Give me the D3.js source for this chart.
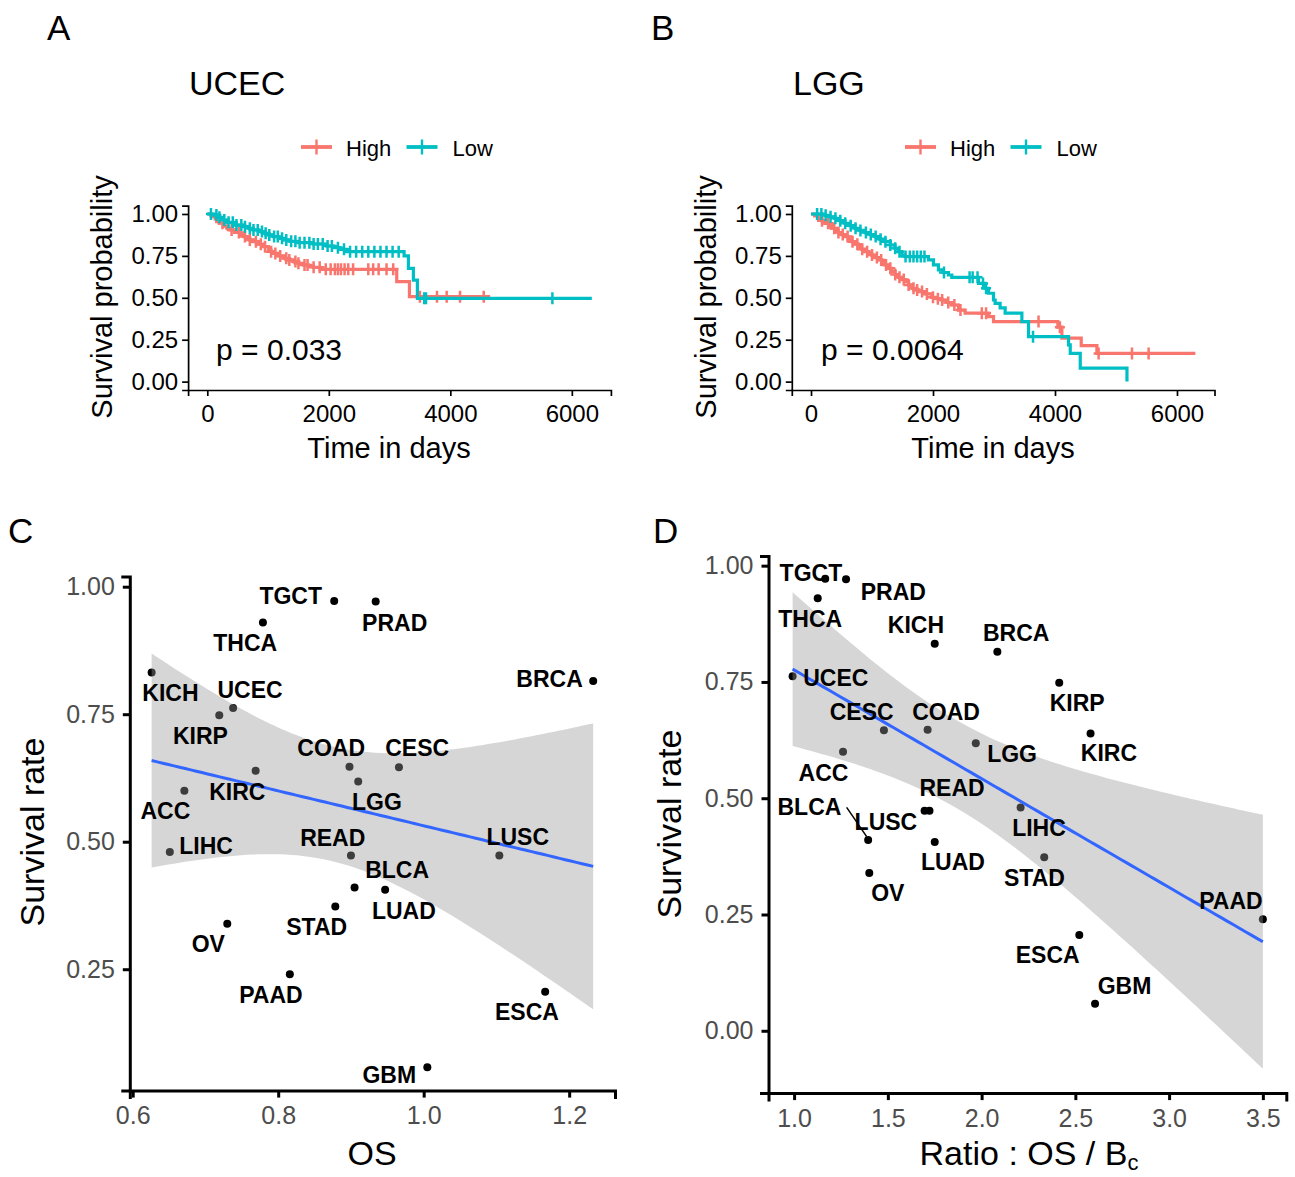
<!DOCTYPE html>
<html>
<head>
<meta charset="utf-8">
<script src="https://cdn.jsdelivr.net/npm/d3@7"></script>
<style>
  body { margin: 0; background: #fff; }
  svg { display: block; font-family: "Liberation Sans", Arial, Helvetica, sans-serif; }
</style>
</head>
<body>
<svg id="fig" width="1295" height="1177"></svg>
<script>
// ---------------- Kaplan–Meier curves: [time in days, survival after that time] ----------------
const ucecHighSteps = [[0,1],[60,0.99],[99,0.984],[130,0.97],[154,0.954],[200,0.945],[263,0.928],[320,0.915],[373,0.905],[450,0.89],[538,0.875],[600,0.865],[648,0.855],[700,0.845],[757,0.835],[840,0.82],[922,0.805],[1005,0.785],[1050,0.775],[1087,0.765],[1170,0.75],[1252,0.736],[1330,0.726],[1416,0.716],[1500,0.706],[1581,0.696],[1660,0.689],[1746,0.682],[1855,0.670],[3118,0.596],[3327,0.507]];
const ucecHighEnd = 4655;
const ucecHighCensor = [250,400,520,620,700,800,880,950,1050,1120,1200,1300,1350,1450,1500,1600,1650,1750,1850,1950,2030,2100,2150,2200,2260,2320,2400,2650,2730,2820,2950,3060,3500,3780,3940,4160,4550];

const ucecLowSteps = [[0,1],[99,0.994],[180,0.98],[263,0.964],[340,0.95],[428,0.934],[593,0.924],[680,0.915],[757,0.905],[840,0.895],[922,0.885],[1000,0.875],[1087,0.865],[1170,0.855],[1252,0.845],[1360,0.837],[1471,0.829],[1746,0.821],[1965,0.809],[2080,0.799],[2185,0.789],[2295,0.775],[3239,0.750],[3310,0.676],[3392,0.606],[3458,0.497]];
const ucecLowEnd = 6329;
const ucecLowCensor = [60,150,200,280,350,420,480,560,620,700,760,830,900,960,1020,1100,1160,1230,1300,1380,1450,1520,1600,1680,1750,1820,1900,1980,2050,2150,2250,2350,2450,2550,2650,2750,2850,2950,3050,3150,3570,3600,5680];

const lggHighSteps = [[0,1],[60,0.988],[120,0.974],[180,0.96],[230,0.944],[290,0.93],[339,0.915],[400,0.90],[449,0.889],[500,0.877],[558,0.865],[610,0.85],[667,0.835],[720,0.82],[777,0.805],[830,0.79],[886,0.775],[940,0.765],[995,0.755],[1050,0.74],[1105,0.726],[1160,0.711],[1214,0.696],[1270,0.676],[1324,0.656],[1380,0.639],[1433,0.622],[1490,0.609],[1542,0.596],[1600,0.577],[1652,0.557],[1706,0.547],[1761,0.537],[1871,0.523],[1980,0.503],[2060,0.495],[2144,0.487],[2230,0.472],[2308,0.457],[2418,0.427],[2527,0.408],[2910,0.388],[2992,0.358],[4047,0.325],[4113,0.26],[4430,0.215],[4687,0.168]];
const lggHighEnd = 6301;
const lggHighCensor = [180,280,380,450,520,600,680,760,840,920,1000,1080,1150,1230,1300,1380,1450,1520,1600,1680,1740,1820,1900,2000,2080,2150,2250,2350,2450,2800,2870,3730,4080,4715,5262,5535];

const lggLowSteps = [[0,1],[230,0.992],[310,0.983],[394,0.974],[470,0.96],[558,0.944],[640,0.93],[722,0.915],[800,0.902],[886,0.889],[970,0.877],[1050,0.865],[1130,0.85],[1214,0.835],[1300,0.815],[1378,0.795],[1430,0.775],[1488,0.755],[1542,0.746],[1925,0.726],[2007,0.696],[2089,0.666],[2170,0.651],[2253,0.636],[2308,0.622],[2746,0.586],[2855,0.557],[2910,0.527],[2992,0.487],[3019,0.467],[3100,0.44],[3183,0.408],[3457,0.358],[3566,0.268],[4222,0.219],[4250,0.169],[4414,0.080],[5180,0.0]];
const lggLowEnd = 5180;
const lggLowCensor = [100,170,240,320,400,480,560,650,730,810,900,980,1060,1140,1220,1300,1380,1450,1550,1620,1680,1740,1800,1860,2180,2600,2650,2730,2820,2870,3640];

const kmTimeTicks = [0, 2000, 4000, 6000];
const kmProbTicks = [0, 0.25, 0.5, 0.75, 1];
const groupNames = ["High", "Low"];

// ---------------- Cancer types: survival rate vs OS and vs OS / Bc ----------------
const cancerTypes = ["TGCT","PRAD","THCA","KICH","BRCA","UCEC","KIRP","KIRC","COAD","CESC","LGG","ACC","LIHC","READ","LUSC","BLCA","LUAD","STAD","OV","PAAD","ESCA","GBM"];
const survivalRate = [0.972,0.971,0.930,0.832,0.815,0.762,0.748,0.639,0.647,0.646,0.618,0.600,0.480,0.473,0.473,0.410,0.406,0.373,0.339,0.240,0.206,0.058];
const osValue      = [0.877,0.934,0.779,0.626,1.233,0.738,0.719,0.769,0.898,0.966,0.910,0.671,0.651,0.900,1.104,0.905,0.947,0.8785,0.730,0.816,1.167,1.005];
const ratioValue   = [1.166,1.277,1.126,1.750,2.084,0.992,2.414,2.581,1.712,1.479,1.969,1.261,2.208,1.722,1.696,1.395,1.750,2.334,1.401,3.500,2.521,2.605];

const osTicks = [0.6, 0.8, 1.0, 1.2];
const rateTicksC = [0.25, 0.5, 0.75, 1.0];
const ratioTicks = [1.0, 1.5, 2.0, 2.5, 3.0, 3.5];
const rateTicksD = [0, 0.25, 0.5, 0.75, 1.0];

// label placement (pixel offset of the label centre from its point), repel-style layout
const labelOffsetC = {
  TGCT:[-43.5,-5], PRAD:[19,21], THCA:[-17.7,20.6], KICH:[18.8,20.7], BRCA:[-43.6,-2.3],
  UCEC:[17,-18], KIRP:[-18.8,20.7], KIRC:[-18.3,20.7], COAD:[-18.3,-18.7], CESC:[18.2,-19.4],
  LGG:[18.7,20.7], ACC:[-19,20], LIHC:[36.3,-6.5], READ:[-18.2,-18], LUSC:[18.4,-18.3],
  BLCA:[42.5,-17.7], LUAD:[18.7,20.7], STAD:[-18.6,20], OV:[-19,20.3], PAAD:[-18.9,20.7],
  ESCA:[-18.2,20.6], GBM:[-38.1,7.7]
};
const labelOffsetD = {
  TGCT:[-14.3,-6], PRAD:[47.3,12.7], THCA:[-7.5,20.9], KICH:[-18.8,-19], BRCA:[18.8,-19],
  UCEC:[43.2,1.3], KIRP:[18,19.6], KIRC:[18.4,19.6], COAD:[18.4,-18.3], CESC:[-22.2,-19],
  LGG:[36.3,10.6], ACC:[-19.5,20.7], LIHC:[18.4,20.4], READ:[22.6,-22.7], LUSC:[-38.7,11],
  BLCA:[-58.7,-33.3], LUAD:[18.2,20], STAD:[-9.8,20.4], OV:[18.5,20], PAAD:[-31.9,-18],
  ESCA:[-31.6,19.7], GBM:[29.5,-18.4]
};
// leader segments for labels pushed far from their point
const leaderD = { BLCA: [[-21.5,-32.7],[-1.5,-3.5]] };

const COL_HIGH = "#F8766D", COL_LOW = "#00BFC4";
const svg = d3.select("#fig");

// ---------------- helpers ----------------
function stepValue(steps, t) {
  let v = steps[0][1];
  for (const s of steps) { if (s[0] <= t) v = s[1]; else break; }
  return v;
}

function styleAxis(g, o) {
  g.select(".domain").attr("stroke", "#000").attr("stroke-width", o.lw);
  g.selectAll(".tick line").attr("stroke", o.tickColor || "#000").attr("stroke-width", o.lw);
  g.selectAll(".tick text").attr("fill", o.textColor).attr("font-size", o.fs)
    .attr("font-family", '"Liberation Sans", Arial, sans-serif');
}

// ---------------- Kaplan–Meier panel ----------------
function kmPanel(p) {
  const x = d3.scaleLinear().domain(p.xDomain).range(p.xRange);
  const y = d3.scaleLinear().domain([-0.05, 1.05]).range([390, 205.6]);
  const g = svg.append("g");

  const line = d3.line().curve(d3.curveStepAfter).x(d => x(d[0])).y(d => y(d[1]));
  p.curves.forEach(c => {
    const pts = c.steps.concat([[c.end, c.steps[c.steps.length - 1][1]]]);
    g.append("path").attr("d", line(pts)).attr("fill", "none")
      .attr("stroke", c.color).attr("stroke-width", 3.2).attr("stroke-linejoin", "miter");
    g.append("g").selectAll("path").data(c.censor).join("path")
      .attr("d", t => {
        const cx = x(t), cy = y(stepValue(c.steps, t));
        return `M${cx},${cy - 6}V${cy + 6}M${cx - 5},${cy}H${cx + 5}`;
      })
      .attr("stroke", c.color).attr("stroke-width", 2.5);
  });

  const ax = g.append("g").attr("transform", "translate(0,390)")
    .call(d3.axisBottom(x).tickValues(kmTimeTicks).tickSizeOuter(0).tickSize(6).tickPadding(9).tickFormat(d3.format("d")));
  styleAxis(ax, { lw: 1.7, fs: 24, textColor: "#000" });
  const ay = g.append("g").attr("transform", `translate(${p.xRange[0]},0)`)
    .call(d3.axisLeft(y).tickValues(kmProbTicks).tickSizeOuter(0).tickSize(6).tickPadding(4).tickFormat(d3.format(".2f")));
  styleAxis(ay, { lw: 1.7, fs: 24, textColor: "#000" });

  // axis titles
  g.append("text").attr("x", p.xTitleX).attr("y", 458).attr("text-anchor", "middle")
    .attr("font-size", 29).text("Time in days");
  g.append("text").attr("transform", `translate(${p.yTitleX},297) rotate(-90)`)
    .attr("text-anchor", "middle").attr("font-size", 29).text("Survival probability");

  // p value
  g.append("text").attr("x", x(p.pvalT)).attr("y", 360).attr("font-size", 30).text(p.pval);

  // title + panel letter
  g.append("text").attr("x", p.titleX).attr("y", 95).attr("font-size", 34).text(p.title);
  g.append("text").attr("x", p.letterX).attr("y", 40).attr("font-size", 35).text(p.letter);

  // legend
  const leg = g.append("g").attr("transform", `translate(${p.legendX},147)`);
  const items = [{ name: groupNames[0], color: COL_HIGH, x: 0, tx: 45 },
                 { name: groupNames[1], color: COL_LOW, x: 105.5, tx: 151.5 }];
  items.forEach(it => {
    leg.append("line").attr("x1", it.x).attr("x2", it.x + 31).attr("y1", 0).attr("y2", 0)
      .attr("stroke", it.color).attr("stroke-width", 3.8);
    leg.append("line").attr("x1", it.x + 15.5).attr("x2", it.x + 15.5).attr("y1", -7.5).attr("y2", 7.5)
      .attr("stroke", it.color).attr("stroke-width", 2.4);
    leg.append("text").attr("x", it.tx).attr("y", 9).attr("font-size", 22).text(it.name);
  });
}

kmPanel({
  xDomain: [-316, 6643], xRange: [188.1, 610.9],
  curves: [
    { steps: ucecHighSteps, end: ucecHighEnd, censor: ucecHighCensor, color: COL_HIGH },
    { steps: ucecLowSteps, end: ucecLowEnd, censor: ucecLowCensor, color: COL_LOW }
  ],
  xTitleX: 389, yTitleX: 112, pval: "p = 0.033", pvalT: 145,
  title: "UCEC", titleX: 189, letter: "A", letterX: 47, legendX: 301
});
kmPanel({
  xDomain: [-315, 6615], xRange: [791.8, 1214.5],
  curves: [
    { steps: lggHighSteps, end: lggHighEnd, censor: lggHighCensor, color: COL_HIGH },
    { steps: lggLowSteps, end: lggLowEnd, censor: lggLowCensor, color: COL_LOW }
  ],
  xTitleX: 993, yTitleX: 716, pval: "p = 0.0064", pvalT: 165,
  title: "LGG", titleX: 793, letter: "B", letterX: 651, legendX: 905
});

// ---------------- linear fit with 95% confidence band ----------------
function linearFit(xs, ys) {
  const n = xs.length;
  const mx = d3.mean(xs), my = d3.mean(ys);
  let sxx = 0, sxy = 0;
  for (let i = 0; i < n; i++) { sxx += (xs[i] - mx) ** 2; sxy += (xs[i] - mx) * (ys[i] - my); }
  const b = sxy / sxx, a = my - b * mx;
  let sse = 0;
  for (let i = 0; i < n; i++) sse += (ys[i] - (a + b * xs[i])) ** 2;
  const s = Math.sqrt(sse / (n - 2));
  const tq = 2.086; // Student t, 0.975 quantile, 20 degrees of freedom
  const [lo, hi] = d3.extent(xs);
  const grid = d3.range(80).map(i => lo + i * (hi - lo) / 79);
  return grid.map(gx => {
    const fit = a + b * gx;
    const se = s * Math.sqrt(1 / n + (gx - mx) ** 2 / sxx);
    return { x: gx, y: fit, lo: fit - tq * se, hi: fit + tq * se };
  });
}

// ---------------- scatter panel ----------------
function scatterPanel(p) {
  const x = d3.scaleLinear().domain(p.xDomain).range(p.xRange);
  const y = d3.scaleLinear().domain(p.yDomain).range(p.yRange);
  const g = svg.append("g");
  const data = cancerTypes.map((name, i) => ({ name, xv: p.xs[i], yv: survivalRate[i] }));

  // points
  g.append("g").selectAll("circle").data(data).join("circle")
    .attr("cx", d => x(d.xv)).attr("cy", d => y(d.yv)).attr("r", 4).attr("fill", "#000");

  // smoother
  const fit = linearFit(p.xs, survivalRate);
  g.append("path").datum(fit)
    .attr("d", d3.area().x(d => x(d.x)).y0(d => y(d.lo)).y1(d => y(d.hi)))
    .attr("fill", "#999999").attr("fill-opacity", 0.4);
  g.append("path").datum(fit)
    .attr("d", d3.line().x(d => x(d.x)).y(d => y(d.y)))
    .attr("fill", "none").attr("stroke", "#3366FF").attr("stroke-width", 3);

  // leader segments
  data.forEach(d => {
    const seg = p.leaders[d.name];
    if (!seg) return;
    g.append("line")
      .attr("x1", x(d.xv) + seg[0][0]).attr("y1", y(d.yv) + seg[0][1])
      .attr("x2", x(d.xv) + seg[1][0]).attr("y2", y(d.yv) + seg[1][1])
      .attr("stroke", "#000").attr("stroke-width", 1.5);
  });

  // labels
  g.append("g").selectAll("text").data(data).join("text")
    .attr("x", d => x(d.xv) + p.offsets[d.name][0])
    .attr("y", d => y(d.yv) + p.offsets[d.name][1] + 8.2)
    .attr("text-anchor", "middle").attr("font-size", 23).attr("font-weight", "bold")
    .attr("fill", "#000").text(d => d.name);

  // axes
  const ax = g.append("g").attr("transform", `translate(0,${p.yRange[0]})`)
    .call(d3.axisBottom(x).tickValues(p.xTicks).tickSizeOuter(0).tickSize(7).tickPadding(9).tickFormat(d3.format(".1f")));
  styleAxis(ax, { lw: 3, fs: 25, textColor: "#4D4D4D" });
  const ay = g.append("g").attr("transform", `translate(${p.xRange[0]},0)`)
    .call(d3.axisLeft(y).tickValues(p.yTicks).tickSizeOuter(0).tickSize(7).tickPadding(8).tickFormat(d3.format(".2f")));
  styleAxis(ay, { lw: 3, fs: 25, textColor: "#4D4D4D" });
  ax.select(".domain").attr("stroke-linecap", "square");
  ay.select(".domain").attr("stroke-linecap", "square");

  // titles
  const xt = g.append("text").attr("x", p.xTitleX).attr("y", 1165).attr("text-anchor", "middle").attr("font-size", 34);
  xt.append("tspan").text(p.xTitle);
  if (p.xTitleSub) xt.append("tspan").attr("dy", 5).attr("font-size", 22).text(p.xTitleSub);
  g.append("text").attr("transform", `translate(${p.yTitleX},${p.yTitleY}) rotate(-90)`)
    .attr("text-anchor", "middle").attr("font-size", 34).text("Survival rate");
  g.append("text").attr("x", p.letterX).attr("y", 543).attr("font-size", 35).text(p.letter);
}

scatterPanel({
  xs: osValue, xDomain: [0.596, 1.263], xRange: [129.8, 615],
  yDomain: [0.012, 1.02], yRange: [1090.6, 576.5],
  xTicks: osTicks, yTicks: rateTicksC,
  offsets: labelOffsetC, leaders: {},
  xTitle: "OS", xTitleX: 372, yTitleX: 44, yTitleY: 832,
  letter: "C", letterX: 8
});
scatterPanel({
  xs: ratioValue, xDomain: [0.8635, 3.625], xRange: [768.5, 1286.3],
  yDomain: [-0.134, 1.021], yRange: [1093.1, 555.9],
  xTicks: ratioTicks, yTicks: rateTicksD,
  offsets: labelOffsetD, leaders: leaderD,
  xTitle: "Ratio : OS / B", xTitleSub: "c", xTitleX: 1029, yTitleX: 681, yTitleY: 824,
  letter: "D", letterX: 653
});
</script>
</body>
</html>
